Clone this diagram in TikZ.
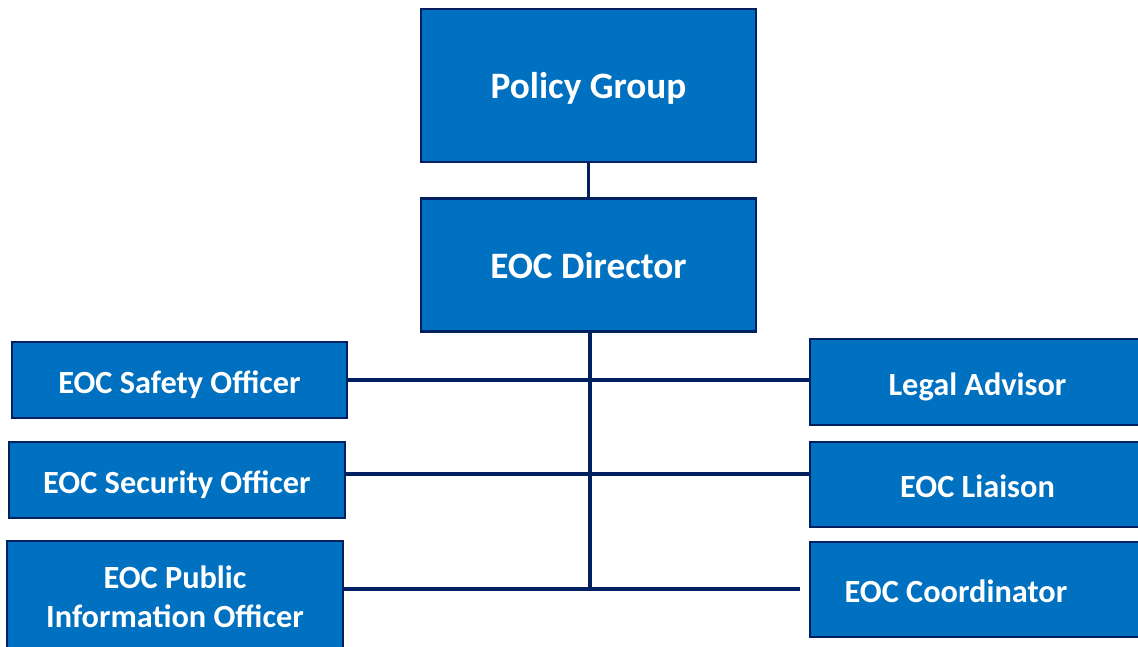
\documentclass[tikz,border=0pt]{standalone}
\usepackage{fontspec}
\setmainfont{Carlito}
\usepackage{xcolor}
\usepackage{tikz}
\definecolor{boxBlue}{HTML}{0070C0}
\definecolor{lineNavy}{HTML}{002060}
\newcommand{\boxWidth}{3.35cm}

\begin{document}
\begin{tikzpicture}[
	unit/.style={rectangle,draw=lineNavy,line width=0.7pt,fill=boxBlue,text=white,font=\bfseries,minimum width=\boxWidth,inner sep=0pt},
	oneline/.style={text height=0.76em,text depth=0pt},
	bigunit/.style={unit,oneline,font=\bfseries\fontsize{10.6}{12}\selectfont},
	smallunit/.style={unit,font=\bfseries\fontsize{9.2}{11}\selectfont,align=center},
	link/.style={draw=lineNavy,line width=1.1pt}
]
	\useasboundingbox (0,0) rectangle (11.38,6.47);

	\node[bigunit,minimum height=1.53cm] (policy) at (5.885,5.615) {Policy Group};
	\node[bigunit,minimum height=1.33cm] (director) at (5.885,3.82) {EOC Director};

	\node[smallunit,oneline,minimum height=0.76cm] (safety) at (1.795,2.67) {EOC Safety Officer};
	\node[smallunit,oneline,minimum height=0.76cm,minimum width=3.36cm] (security) at (1.77,1.67) {EOC Security Officer};
	\node[smallunit,minimum height=1.12cm,minimum width=3.36cm] (pio) at (1.75,0.50) {EOC Public\\Information Officer};

	\node[smallunit,oneline,minimum height=0.86cm] (legal) at (9.775,2.65) {Legal Advisor};
	\node[smallunit,oneline,minimum height=0.85cm] (liaison) at (9.775,1.625) {EOC Liaison};
	\node[smallunit,oneline,minimum height=0.95cm] (coord) at (9.775,0.575) {EOC Coordinator\hspace*{0.43cm}};

	\coordinate (trunkEnd) at (5.90,0.58);
	\coordinate (pioEnd) at (8.00,0.58);

	\draw[link] (policy) -- (director);
	\draw[link] (director.south -| trunkEnd) -- (trunkEnd);
	\draw[link] (safety.east) -- (safety.east -| legal.west);
	\draw[link] ([yshift=1.7pt]security.east) -- ([yshift=1.7pt]security.east -| liaison.west);
	\draw[link] (pio.east |- pioEnd) -- (pioEnd);
\end{tikzpicture}
\end{document}
